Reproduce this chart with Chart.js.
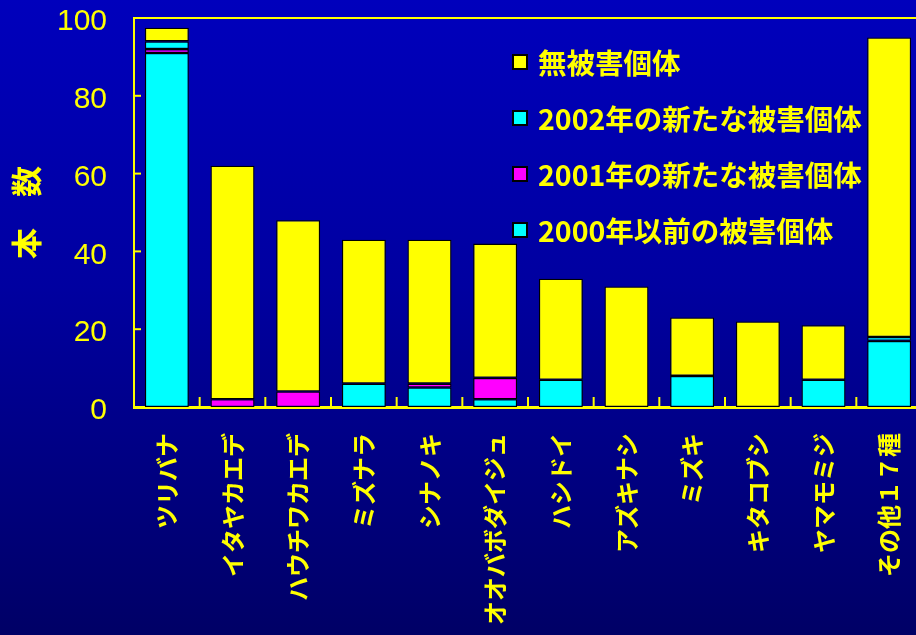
<!DOCTYPE html>
<html>
<head>
<meta charset="utf-8">
<script src="https://cdn.jsdelivr.net/npm/chart.js@4.4.1/dist/chart.umd.min.js"></script>
<style>
  html, body { margin: 0; padding: 0; overflow: hidden; width: 916px; height: 635px; }
  body { background: linear-gradient(to bottom, #0000bc 0%, #0000a0 45%, #000066 100%); }
  #wrap { position: absolute; left: 0; top: 0; width: 922px; height: 635px; }
</style>
</head>
<body>
<div id="wrap"><canvas id="c"></canvas></div>
<script>
const categories = ['ツリバナ','イタヤカエデ','ハウチワカエデ','ミズナラ','シナノキ','オオバボダイジュ','ハシドイ','アズキナシ','ミズキ','キタコブシ','ヤマモミジ','その他１７種'];
const before2000 = [91, 0, 0, 6, 5, 2, 7, 0, 8, 0, 7, 17];
const new2001    = [1, 2, 4, 0, 1, 5.5, 0, 0, 0, 0, 0, 0];
const new2002    = [2, 0, 0, 0, 0, 0, 0, 0, 0, 0, 0, 1];
const undamaged  = [3.5, 60, 44, 37, 37, 34.5, 26, 31, 15, 22, 14, 77];
const seriesNames = ['2000年以前の被害個体', '2001年の新たな被害個体', '2002年の新たな被害個体', '無被害個体'];
const yTicks = [0, 20, 40, 60, 80, 100];
const yTitle = '本　数';

const YELLOW = '#ffff00', CYAN = '#00ffff', MAGENTA = '#ff00ff';
const cjk = '"Noto Sans CJK JP", "Noto Sans", sans-serif';

const extras = {
  id: 'extras',
  afterDraw(chart) {
    const { ctx, chartArea: a, scales: { x, y } } = chart;
    ctx.save();
    ctx.strokeStyle = YELLOW;
    ctx.lineWidth = 2;
    // top frame line
    ctx.beginPath(); ctx.moveTo(a.left, a.top); ctx.lineTo(a.right, a.top); ctx.stroke();
    // inner y ticks
    yTicks.forEach(v => {
      const py = y.getPixelForValue(v);
      ctx.beginPath(); ctx.moveTo(a.left, py); ctx.lineTo(a.left + 7, py); ctx.stroke();
    });
    // inner x ticks at category boundaries
    const half = (x.getPixelForValue(1) - x.getPixelForValue(0)) / 2;
    for (let i = 1; i < categories.length; i++) {
      const px = x.getPixelForValue(i) - half;
      ctx.beginPath(); ctx.moveTo(px, a.bottom); ctx.lineTo(px, a.bottom - 10); ctx.stroke();
    }
    // legend (reverse order of stacking)
    const ds = chart.data.datasets.slice().reverse();
    ctx.font = 'bold 28.5px ' + cjk;
    ctx.textBaseline = 'middle';
    ctx.textAlign = 'left';
    ds.forEach((d, i) => {
      const cy = 62 + i * 56;
      ctx.fillStyle = '#000000';
      ctx.fillRect(512, cy - 8, 16, 16);
      ctx.fillStyle = d.backgroundColor;
      ctx.fillRect(514, cy - 6, 12, 12);
      ctx.fillStyle = YELLOW;
      ctx.fillText(d.label, 538, cy + 1);
    });
    ctx.restore();
  }
};

const mk = (label, data, color) => ({
  label, data, backgroundColor: color, borderColor: '#000000', borderWidth: 1.3,
  borderSkipped: false, barPercentage: 0.67, categoryPercentage: 1.0
});

new Chart(document.getElementById('c'), {
  type: 'bar',
  data: {
    labels: categories,
    datasets: [
      mk(seriesNames[0], before2000, CYAN),
      mk(seriesNames[1], new2001, MAGENTA),
      mk(seriesNames[2], new2002, CYAN),
      mk(seriesNames[3], undamaged, YELLOW)
    ]
  },
  options: {
    responsive: true,
    maintainAspectRatio: false,
    animation: false,
    layout: { padding: { top: 18, left: 0, right: 0, bottom: 0 } },
    plugins: { legend: { display: false }, tooltip: { enabled: false } },
    scales: {
      x: {
        stacked: true,
        grid: { display: false, drawTicks: false, tickLength: 0 },
        border: { display: true, color: YELLOW, width: 3 },
        ticks: {
          color: YELLOW, maxRotation: 90, minRotation: 90, autoSkip: false, padding: 26,
          font: { family: cjk, size: 24, weight: 'bold' }
        },
        afterFit(s) { s.height = 228; s.paddingLeft = 0; s.paddingRight = 0; }
      },
      y: {
        stacked: true,
        min: 0, max: 100,
        afterBuildTicks(s) { s.ticks = yTicks.map(v => ({ value: v })); },
        grid: { display: false, drawTicks: false, tickLength: 0 },
        border: { display: true, color: YELLOW, width: 2 },
        ticks: {
          color: YELLOW, padding: 27, labelOffset: 4,
          font: { family: '"Liberation Sans", Arial, sans-serif', size: 30 }
        },
        title: {
          display: true, text: yTitle, color: YELLOW,
          font: { family: cjk, size: 31, weight: 'bold' },
          padding: { top: 8, bottom: 0 }
        },
        afterFit(s) { s.width = 134; s.paddingTop = 0; s.paddingBottom = 0; }
      }
    }
  },
  plugins: [extras]
});
</script>
</body>
</html>
